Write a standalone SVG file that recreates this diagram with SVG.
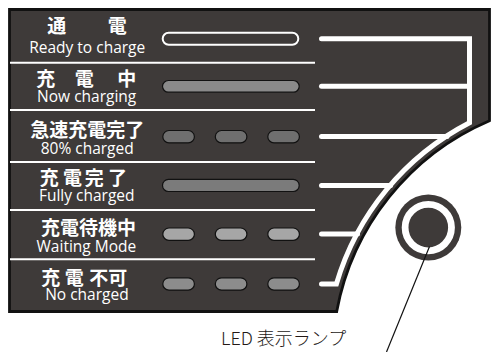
<svg xmlns="http://www.w3.org/2000/svg" width="492" height="352" viewBox="0 0 492 352">
<style>
.jp{font-family:"Noto Sans CJK JP","Noto Sans",sans-serif;font-weight:bold;font-size:19px;fill:#fff;text-anchor:middle}
.en{font-family:"Open Sans","Liberation Sans",sans-serif;font-size:15.5px;fill:#fff;text-anchor:middle}
.sep{stroke:#fff;stroke-width:2}
.lamp{stroke:#111;stroke-width:1.2}
.con{fill:none;stroke:#fff;stroke-width:5;stroke-linecap:round;stroke-linejoin:miter}
.lbl{font-family:"Noto Sans CJK JP","Noto Sans",sans-serif;font-weight:300;font-size:18px;fill:#231815}
</style>
<rect width="492" height="352" fill="#fff"/>
<g id="panel">
<path d="M9.5,9.5 H489.5 V120.7 A259.2,259.2 0 0 0 336.7,311.5 H9.5 Z" fill="#3e3a39" stroke="#111" stroke-width="2.8"/>
<line class="sep" x1="10" y1="62.7" x2="315" y2="62.7"/>
<line class="sep" x1="10" y1="110" x2="315" y2="110"/>
<line class="sep" x1="10" y1="162" x2="315" y2="162"/>
<line class="sep" x1="10" y1="210" x2="315" y2="210"/>
<line class="sep" x1="10" y1="259.3" x2="315" y2="259.3"/>
</g>
<g id="row-ready">
<text class="jp" y="33"><tspan x="56.7">通</tspan><tspan x="117.2">電</tspan></text>
<text class="en" x="87.2" y="53.3">Ready to charge</text>
<rect x="162.7" y="32.7" width="135.6" height="12" rx="6" fill="#3e3a39" stroke="#fff" stroke-width="2"/>
</g>
<g id="row-charging">
<text class="jp" y="85.5"><tspan x="45.8">充</tspan><tspan x="84.2">電</tspan><tspan x="126.7">中</tspan></text>
<text class="en" x="86.7" y="102.3">Now charging</text>
<rect class="lamp" x="162.5" y="80.5" width="136.7" height="11.7" rx="5.85" fill="#8a8a8a"/>
</g>
<g id="row-80">
<text class="jp" x="87.2" y="137">急速充電完了</text>
<text class="en" x="87.2" y="154">80% charged</text>
<rect class="lamp" x="162.8" y="130.5" width="31.6" height="12.3" rx="6.15" fill="#6f6f6f"/>
<rect class="lamp" x="215.3" y="130.5" width="31.6" height="12.3" rx="6.15" fill="#6f6f6f"/>
<rect class="lamp" x="267.8" y="130.5" width="31.6" height="12.3" rx="6.15" fill="#6f6f6f"/>
</g>
<g id="row-full">
<text class="jp" y="184.5"><tspan x="49.2">充</tspan><tspan x="72.5">電</tspan><tspan x="94.2">完</tspan><tspan x="117.5">了</tspan></text>
<text class="en" x="86.7" y="201">Fully charged</text>
<rect class="lamp" x="162.5" y="179.4" width="136.7" height="12.1" rx="6" fill="#7b7b7b"/>
</g>
<g id="row-waiting">
<text class="jp" x="88.4" y="235">充電待機中</text>
<text class="en" x="86.4" y="251.7">Waiting Mode</text>
<rect class="lamp" x="162.8" y="228" width="31.6" height="12.3" rx="6.15" fill="#a6a6a6"/>
<rect class="lamp" x="215.3" y="228" width="31.6" height="12.3" rx="6.15" fill="#a6a6a6"/>
<rect class="lamp" x="267.8" y="228" width="31.6" height="12.3" rx="6.15" fill="#a6a6a6"/>
</g>
<g id="row-no">
<text class="jp" y="284.5"><tspan x="50.8">充</tspan><tspan x="74.2">電</tspan><tspan x="108.3">不可</tspan></text>
<text class="en" x="86.9" y="300">No charged</text>
<rect class="lamp" x="162.8" y="277.8" width="31.6" height="12.3" rx="6.15" fill="#8c8c8c"/>
<rect class="lamp" x="215.3" y="277.8" width="31.6" height="12.3" rx="6.15" fill="#8c8c8c"/>
<rect class="lamp" x="267.8" y="277.8" width="31.6" height="12.3" rx="6.15" fill="#8c8c8c"/>
</g>
<g id="connectors">
<path class="con" d="M321.5,38.7 H469.5 V122.8 A266,266 0 0 0 336.4,284 H321.5"/>
<path class="con" d="M321.5,86.3 H469"/>
<path class="con" d="M321.5,136.5 H447"/>
<path class="con" d="M321.5,185.5 H390.5"/>
<path class="con" d="M321.5,234 H357.5"/>
</g>
<g id="led">
<circle cx="428.3" cy="227.6" r="33" fill="#3e3a39"/>
<circle cx="428.3" cy="227.6" r="23.2" fill="none" stroke="#fff" stroke-width="6.8"/>
<line x1="429.5" y1="246.5" x2="386.5" y2="352" stroke="#111" stroke-width="1.2"/>
<text class="lbl" x="221" y="344.5">LED 表示ランプ</text>
</g>
</svg>
